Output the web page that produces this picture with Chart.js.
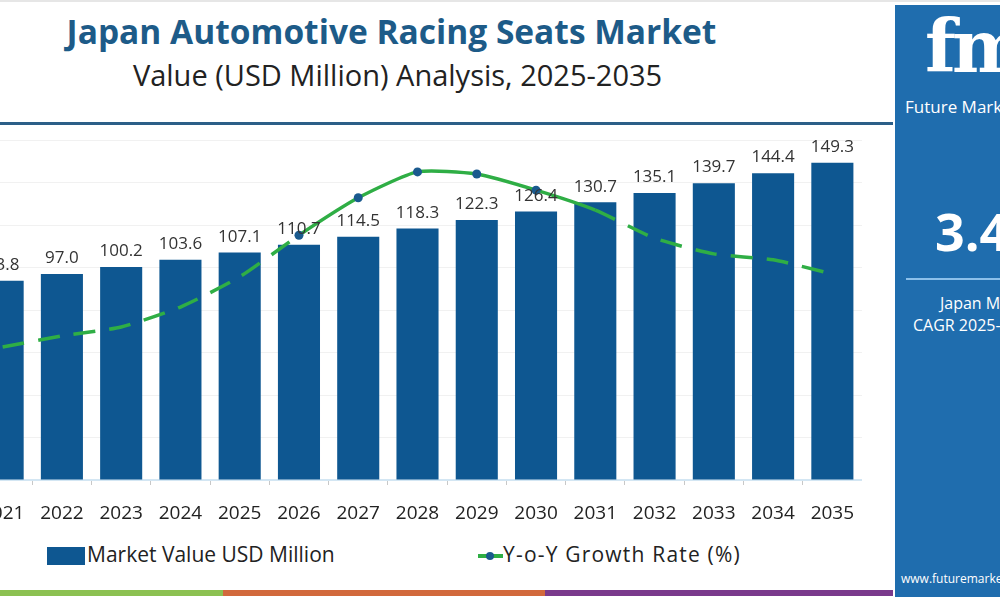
<!DOCTYPE html>
<html>
<head>
<meta charset="utf-8">
<script src="https://cdn.jsdelivr.net/npm/chart.js@4.4.1/dist/chart.umd.min.js"></script>
<style>
  body { margin: 0; width: 1000px; height: 600px; overflow: hidden; background: #fff; font-family: "Open Sans", sans-serif; position: relative; }
  .title { position: absolute; left: 0; width: 783px; top: 8px; text-align: center; font-weight: 700; font-size: 33.5px; color: #1d5b88; }
  .subtitle { position: absolute; left: 0; width: 795px; top: 55px; text-align: center; font-size: 29px; color: #222; }
  .sep { position: absolute; left: 0; top: 122px; width: 893px; height: 3px; background: #2c5f88; }
  .topline { position: absolute; left: 0; top: 0; width: 1000px; height: 2px; background: #e6e6e6; }
  #wrap { position: absolute; left: -27px; top: 100px; width: 889px; height: 435px; }
  .legend { position: absolute; top: 540px; font-size: 21px; color: #222; }
  .panel { position: absolute; left: 895px; top: 5px; width: 220px; height: 592px; background: #1f6dae; color: #fff; overflow: hidden; }
  .strip { position: absolute; top: 590px; height: 6px; }
</style>
</head>
<body>
<div class="topline"></div>
<div class="title">Japan Automotive Racing Seats Market</div>
<div class="subtitle">Value (USD Million) Analysis, 2025-2035</div>
<div class="sep"></div>
<div id="wrap"><canvas id="myChart"></canvas></div>

<div class="legend" style="left:47px;">
  <span style="display:inline-block;width:38px;height:18px;background:#0e5791;vertical-align:-3px;"></span><span style="margin-left:2px;">Market Value USD Million</span>
</div>
<div class="legend" style="left:478px;">
  <span style="display:inline-block;position:relative;width:25px;height:18px;vertical-align:-3px;">
    <span style="position:absolute;left:0;top:7px;width:25px;height:4px;background:#2fae45;"></span>
    <span style="position:absolute;left:8px;top:5px;width:8px;height:8px;border-radius:50%;background:#1a5a8e;"></span>
  </span><span style="letter-spacing:1.2px;">Y-o-Y Growth Rate (%)</span>
</div>

<div class="strip" style="left:0;width:223px;background:#8cc152;"></div>
<div class="strip" style="left:223px;width:322px;background:#d2693c;"></div>
<div class="strip" style="left:545px;width:348px;background:#7a3a8c;"></div>

<div class="panel">
  <div style="position:absolute;left:30px;top:2px;font-family:'DejaVu Serif',serif;font-weight:700;font-size:72px;line-height:80px;letter-spacing:-4px;">fmi</div>
  <div style="position:absolute;left:10px;top:90px;font-size:17px;">Future Market Insights</div>
  <div style="position:absolute;left:40px;top:196px;font-size:52px;font-weight:700;line-height:60px;">3.4%</div>
  <div style="position:absolute;left:11px;top:273px;width:200px;height:2px;background:#8cc0ea;"></div>
  <div style="position:absolute;left:45px;top:287px;font-size:16px;">Japan Market</div>
  <div style="position:absolute;left:18px;top:309px;font-size:16px;">CAGR 2025-2035</div>
  <div style="position:absolute;left:6px;top:565px;font-size:12px;">www.futuremarketinsights.com</div>
</div>

<script>
const years = ["2021", "2022", "2023", "2024", "2025", "2026", "2027", "2028", "2029", "2030", "2031", "2032", "2033", "2034", "2035"];
const marketValue = [93.8, 97.0, 100.2, 103.6, 107.1, 110.7, 114.5, 118.3, 122.3, 126.4, 130.7, 135.1, 139.7, 144.4, 149.3];
const growthRate = [3.13, 3.39, 3.6, 4.07, 4.78, 5.76, 6.64, 7.25, 7.2, 6.82, 6.35, 5.69, 5.32, 5.18, 4.85];
const markerShown = [0, 0, 0, 0, 0, 1, 1, 1, 1, 1, 0, 0, 0, 0, 0];

const valueLabels = {
  id: "valueLabels",
  afterDatasetsDraw(chart) {
    const ctx = chart.ctx;
    const meta = chart.getDatasetMeta(1);
    ctx.save();
    ctx.font = "17px 'Open Sans', sans-serif";
    ctx.fillStyle = "#333";
    ctx.textAlign = "center";
    ctx.textBaseline = "bottom";
    meta.data.forEach((bar, i) => {
      ctx.fillText(marketValue[i].toFixed(1), bar.x, bar.y - 7);
    });
    ctx.restore();
  },
};

const ctx = document.getElementById("myChart");

new Chart(ctx, {
  type: "bar",
  data: {
    labels: years,
    datasets: [
      {
        type: "line",
        label: "Y-o-Y Growth Rate (%)",
        data: growthRate,
        yAxisID: "y1",
        borderColor: "#2fae45",
        borderWidth: 3.5,
        tension: 0.2,
        pointRadius: markerShown.map((m) => (m ? 4.5 : 0)),
        pointBackgroundColor: "#1a5a8e",
        pointBorderWidth: 0,
        segment: {
          borderDash: (c) => (c.p0DataIndex < 5 || c.p0DataIndex >= 10 ? [22, 14] : undefined),
        },
        order: 0,
      },
      {
        label: "Market Value USD Million",
        data: marketValue,
        backgroundColor: "#0e5791",
        barPercentage: 0.71,
        categoryPercentage: 1,
        order: 1,
      },
    ],
  },
  options: {
    responsive: true,
    maintainAspectRatio: false,
    animation: false,
    layout: { padding: { top: 40, left: 0, right: 0, bottom: 0 } },
    plugins: {
      legend: { display: false },
      tooltip: { enabled: false },
    },
    scales: {
      x: {
        grid: { display: true, drawOnChartArea: false, drawTicks: true, tickLength: 5, color: "#c8c8c8" },
        border: { color: "#d3e6f3", width: 2 },
        ticks: { color: "#222", font: { size: 19, family: "'Open Sans', sans-serif" }, padding: 17, maxRotation: 0, autoSkip: false },
        afterFit: (s) => {
          s.height = 55;
          s.paddingLeft = 0;
          s.paddingRight = 0;
        },
      },
      y: {
        min: 0,
        max: 160,
        ticks: { display: false, stepSize: 20 },
        grid: { color: "#f1f1f1", drawTicks: false },
        border: { display: false },
        afterFit: (s) => { s.width = 0; },
      },
      y1: {
        display: false,
        min: 0,
        max: 8,
      },
    },
  },
  plugins: [valueLabels],
});
</script>
</body>
</html>
